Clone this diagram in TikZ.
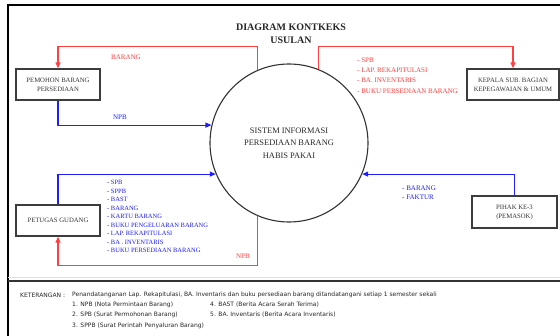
\documentclass[tikz,border=0pt]{standalone}
\usepackage{fontspec}
\setmainfont{Liberation Serif}
\newfontfamily\notefont{DejaVu Sans}
\usetikzlibrary{arrows.meta,positioning}
\definecolor{flowred}{RGB}{255,64,64}
\definecolor{flowblue}{RGB}{30,30,255}
\definecolor{boxline}{RGB}{60,60,60}

\begin{document}
\begin{tikzpicture}[x=1pt, y=-1pt,
  box/.style={draw=boxline, line width=1.3pt, minimum height=31pt, align=center, inner sep=1pt,
    text=black!80, font=\fontsize{6.7}{9}\selectfont},
  redarr/.style={-{Triangle[length=6pt,width=5pt]}, flowred, line width=1.1pt},
  bluearr/.style={-{Triangle[length=6pt,width=5pt]}, flowblue, line width=1.1pt},
  lbl/.style={font=\fontsize{7}{10.3}\selectfont, align=left, inner sep=0pt},
  note/.style={font=\notefont\fontsize{6}{7}\selectfont, anchor=west, inner sep=0pt, text=black!85},
]
\useasboundingbox (0,0) rectangle (560,336);
% frame
\draw[line width=1.4pt] (8,336) -- (8,5) -- (560,5);
\draw[black!12, line width=1.5pt] (8,277.5) -- (560,277.5);
\draw[black!80, line width=1.4pt] (8,281) -- (560,281);

% title
\node[font=\bfseries\fontsize{10}{13}\selectfont, align=center, text=black!85] (title) at (291,33.5)
  {DIAGRAM KONTKEKS\\USULAN};

% system
\node[circle, draw=black!80, line width=1.1pt, minimum size=158pt, align=center, text=black!85,
  font=\fontsize{8.4}{12.5}\selectfont] (sis) at (289,143)
  {SISTEM INFORMASI\\PERSEDIAAN BARANG\\HABIS PAKAI};

% entities
\node[box, minimum width=84pt] (pemohon) at (58,84.5) {PEMOHON BARANG\\PERSEDIAAN};
\node[box, minimum width=92pt] (kepala) at (513,84.5) {KEPALA SUB. BAGIAN\\KEPEGAWAIAN \& UMUM};
\node[box, minimum width=84pt] (gudang) at (58,220.5) {PETUGAS GUDANG};
\node[box, minimum width=85pt, minimum height=32pt] (pihak) at (514.5,212) {PIHAK KE-3\\(PEMASOK)};

% flows
\draw[redarr] (sis.113) -- ++(0,-23) -| (pemohon.north);
\draw[redarr] (sis.68) -- ++(0,-23) -| (kepala.north);
\draw[bluearr] (pemohon.south) |- (sis.167);
\draw[bluearr] (gudang.north) |- (sis.203);
\draw[redarr] (sis.247) -- ++(0,49) -| (gudang.south);
\draw[bluearr] (pihak.north) |- (sis.337);

% flow labels
\node[lbl, text=flowred] (lbarang) at (126,57) {BARANG};
\node[lbl, text=flowblue] (lnpb) at (120,117) {NPB};
\node[lbl, text=flowred, anchor=north west] (llap) at (357,57.5)
  {- SPB\\- LAP. REKAPITULASI\\- BA. INVENTARIS\\- BUKU PERSEDIAAN BARANG};
\node[lbl, text=flowblue, anchor=north west, font=\fontsize{6.5}{8.5}\selectfont] (lgudang) at (107,180)
  {- SPB\\- SPPB\\- BAST\\- BARANG\\- KARTU BARANG\\- BUKU PENGELUARAN BARANG\\- LAP. REKAPITULASI\\- BA . INVENTARIS\\- BUKU PERSEDIAAN BARANG};
\node[lbl, text=flowred] (lnpbb) at (243,256) {NPB};
\node[lbl, text=flowblue, anchor=north west, font=\fontsize{7}{9}\selectfont] (lpihak) at (402,185.7)
  {- BARANG\\- FAKTUR};

% keterangan
\node[note] (ket) at (20,295) {KETERANGAN :};
\node[note] (ket0) at (72,295) {Penandatanganan Lap. Rekapitulasi, BA. Inventaris dan buku persediaan barang ditandatangani setiap 1 semester sekali};
\node[note] (ket1) at (72,305) {1. NPB (Nota Permintaan Barang)};
\node[note] (ket2) at (72,315) {2. SPB (Surat Permohonan Barang)};
\node[note] (ket3) at (72,326) {3. SPPB (Surat Perintah Penyaluran Barang)};
\node[note] (ket4) at (210,305) {4. BAST (Berita Acara Serah Terima)};
\node[note] (ket5) at (210,315) {5. BA. Inventaris (Berita Acara Inventaris)};
\end{tikzpicture}
\end{document}
